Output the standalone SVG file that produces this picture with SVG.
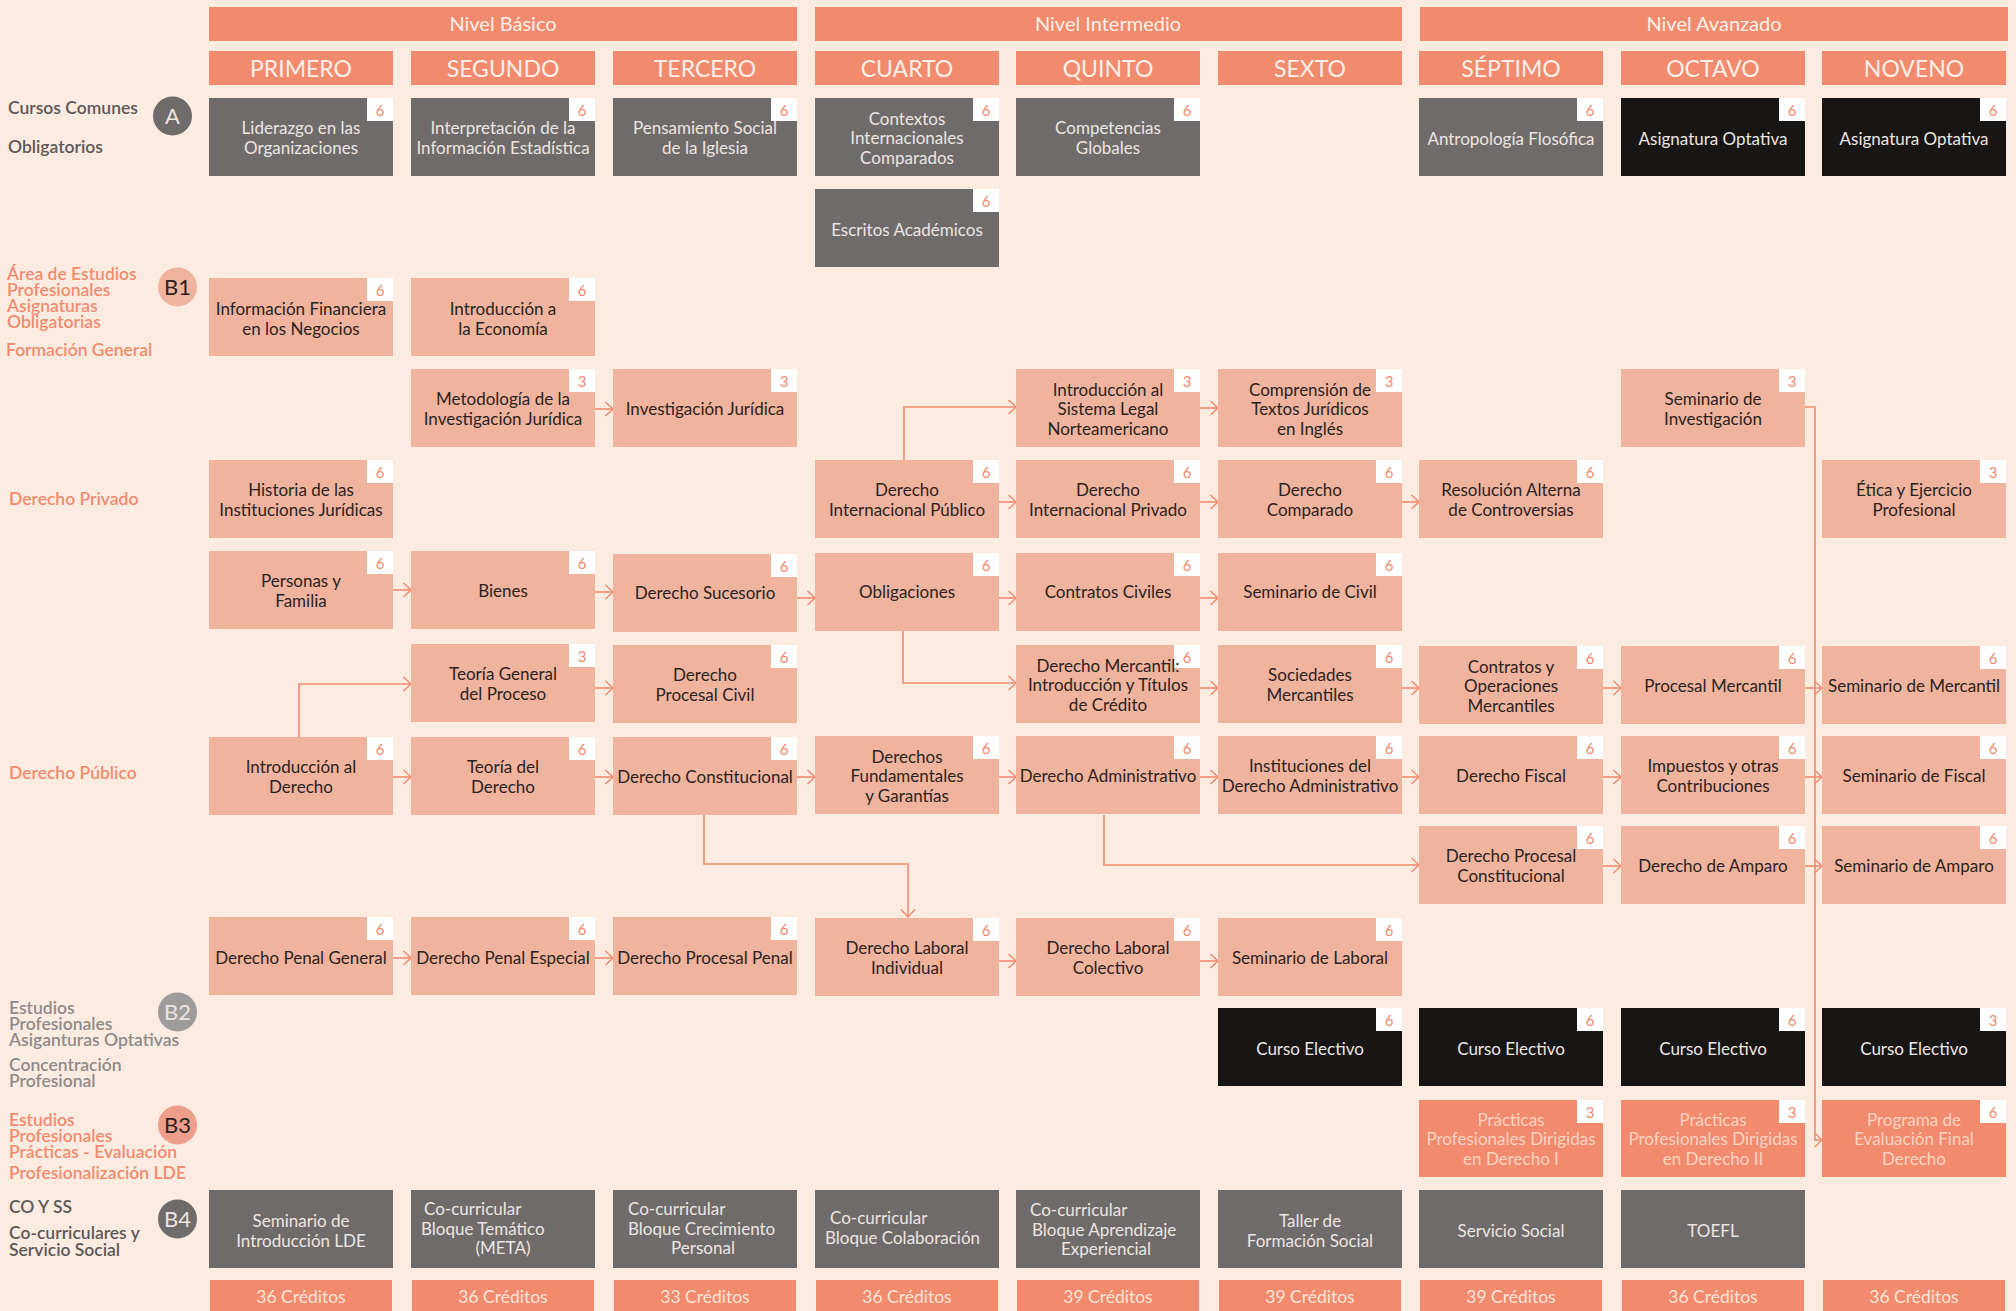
<svg xmlns="http://www.w3.org/2000/svg" width="2016" height="1311" viewBox="0 0 2016 1311">
<defs>
<style>
text{font-family:Lato,"Noto Sans","Liberation Sans",sans-serif;}
.hd{fill:#F28B6E;}
.g{fill:#6F6B6A;}
.k{fill:#181614;}
.s{fill:#F0B39D;}
.p{fill:#F28B6E;}
.bd{fill:#FFFFFF;}
.bn{fill:#F28B6E;font-size:15px;text-anchor:middle;}
.tk{fill:#2B2321;font-size:17px;text-anchor:middle;}
.tl{fill:#ECE5E1;font-size:17px;text-anchor:middle;}
.tp{fill:#FCD3C2;font-size:17px;text-anchor:middle;}
.ts{text-anchor:start;}
.hl{fill:#FDEFE8;font-size:20px;text-anchor:middle;}
.hs{fill:#FDEFE8;font-size:23px;text-anchor:middle;}
.cr{fill:#FDE3D8;font-size:17.5px;text-anchor:middle;}
.lab{font-size:17.5px;font-weight:600;}
.ld{fill:#5E5958;}
.ls{fill:#F28B6E;}
.lg{fill:#8F8B8A;}
.cl{font-size:22px;text-anchor:middle;}
.conn path{fill:none;stroke:#F28B6E;stroke-width:1.6;}
</style>
<marker id="ah" markerUnits="userSpaceOnUse" markerWidth="12" markerHeight="18" refX="9" refY="8" orient="auto">
<path d="M1.5,1 L9,8 L1.5,15" fill="none" stroke="#F28B6E" stroke-width="1.5"/>
</marker>
</defs>
<rect x="0" y="0" width="2016" height="1311" fill="#FCEBE1"/>

<!-- Level headers -->
<g id="levels">
<rect class="hd" x="209" y="7" width="588" height="34"/><text class="hl" x="503" y="31">Nivel Básico</text>
<rect class="hd" x="815" y="7" width="587" height="34"/><text class="hl" x="1108" y="31">Nivel Intermedio</text>
<rect class="hd" x="1420" y="7" width="588" height="34"/><text class="hl" x="1714" y="31">Nivel Avanzado</text>
</g>
<g id="semesters">
<rect class="hd" x="209" y="51" width="184" height="34"/><text class="hs" x="301" y="76.5">PRIMERO</text>
<rect class="hd" x="411" y="51" width="184" height="34"/><text class="hs" x="503" y="76.5">SEGUNDO</text>
<rect class="hd" x="613" y="51" width="184" height="34"/><text class="hs" x="705" y="76.5">TERCERO</text>
<rect class="hd" x="815" y="51" width="184" height="34"/><text class="hs" x="907" y="76.5">CUARTO</text>
<rect class="hd" x="1016" y="51" width="184" height="34"/><text class="hs" x="1108" y="76.5">QUINTO</text>
<rect class="hd" x="1218" y="51" width="184" height="34"/><text class="hs" x="1310" y="76.5">SEXTO</text>
<rect class="hd" x="1419" y="51" width="184" height="34"/><text class="hs" x="1511" y="76.5">SÉPTIMO</text>
<rect class="hd" x="1621" y="51" width="184" height="34"/><text class="hs" x="1713" y="76.5">OCTAVO</text>
<rect class="hd" x="1822" y="51" width="184" height="34"/><text class="hs" x="1914" y="76.5">NOVENO</text>
</g>

<!-- Left legend -->
<g id="legend">
<text class="lab ld" x="8" y="114">Cursos Comunes</text>
<text class="lab ld" x="8" y="153">Obligatorios</text>
<circle cx="172.5" cy="116" r="19.5" fill="#6F6B6A"/><text class="cl" x="172.5" y="124" fill="#ECE5E1">A</text>
<text class="lab ls" x="7" y="280">Área de Estudios</text>
<text class="lab ls" x="7" y="296">Profesionales</text>
<text class="lab ls" x="7" y="312">Asignaturas</text>
<text class="lab ls" x="7" y="328">Obligatorias</text>
<text class="lab ls" x="6" y="356">Formación General</text>
<circle cx="177.5" cy="287" r="19.5" fill="#F0B39D"/><text class="cl" x="177.5" y="295" fill="#2B2321">B1</text>
<text class="lab ls" x="9" y="505">Derecho Privado</text>
<text class="lab ls" x="9" y="779">Derecho Público</text>
<text class="lab lg" x="9" y="1014">Estudios</text>
<text class="lab lg" x="9" y="1030">Profesionales</text>
<text class="lab lg" x="9" y="1046">Asiganturas Optativas</text>
<text class="lab lg" x="9" y="1071">Concentración</text>
<text class="lab lg" x="9" y="1087">Profesional</text>
<circle cx="177.5" cy="1012" r="19.5" fill="#9E9B9B"/><text class="cl" x="177.5" y="1020" fill="#ECE5E1">B2</text>
<text class="lab ls" x="9" y="1126">Estudios</text>
<text class="lab ls" x="9" y="1142">Profesionales</text>
<text class="lab ls" x="9" y="1158">Prácticas - Evaluación</text>
<text class="lab ls" x="9" y="1179">Profesionalización LDE</text>
<circle cx="177.5" cy="1125" r="19.5" fill="#EE9E8A"/><text class="cl" x="177.5" y="1133" fill="#2B2321">B3</text>
<text class="lab ld" x="9" y="1213">CO Y SS</text>
<text class="lab ld" x="9" y="1239">Co-curriculares y</text>
<text class="lab ld" x="9" y="1256">Servicio Social</text>
<circle cx="177.5" cy="1219" r="19.5" fill="#6F6B6A"/><text class="cl" x="177.5" y="1227" fill="#ECE5E1">B4</text>
</g>

<!-- Connectors -->
<g id="connectors" class="conn">
<path d="M595,409 H613" marker-end="url(#ah)"/>
<path d="M1200,408 H1218" marker-end="url(#ah)"/>
<path d="M999,502 H1016" marker-end="url(#ah)"/>
<path d="M1200,502 H1218" marker-end="url(#ah)"/>
<path d="M1402,502 H1419" marker-end="url(#ah)"/>
<path d="M393,590 H411" marker-end="url(#ah)"/>
<path d="M595,592 H613" marker-end="url(#ah)"/>
<path d="M797,598 H815" marker-end="url(#ah)"/>
<path d="M999,598 H1016" marker-end="url(#ah)"/>
<path d="M1200,598 H1218" marker-end="url(#ah)"/>
<path d="M595,688 H613" marker-end="url(#ah)"/>
<path d="M1200,688 H1218" marker-end="url(#ah)"/>
<path d="M1402,688 H1419" marker-end="url(#ah)"/>
<path d="M1603,688 H1621" marker-end="url(#ah)"/>
<path d="M1805,688 H1822" marker-end="url(#ah)"/>
<path d="M393,777 H411" marker-end="url(#ah)"/>
<path d="M595,777 H613" marker-end="url(#ah)"/>
<path d="M797,777 H815" marker-end="url(#ah)"/>
<path d="M999,777 H1016" marker-end="url(#ah)"/>
<path d="M1200,777 H1218" marker-end="url(#ah)"/>
<path d="M1402,777 H1419" marker-end="url(#ah)"/>
<path d="M1603,777 H1621" marker-end="url(#ah)"/>
<path d="M1805,777 H1822" marker-end="url(#ah)"/>
<path d="M1603,866 H1621" marker-end="url(#ah)"/>
<path d="M1805,866 H1822" marker-end="url(#ah)"/>
<path d="M393,958 H411" marker-end="url(#ah)"/>
<path d="M595,958 H613" marker-end="url(#ah)"/>
<path d="M999,961 H1016" marker-end="url(#ah)"/>
<path d="M1200,961 H1218" marker-end="url(#ah)"/>
<path d="M299,737 V684 H411" marker-end="url(#ah)"/>
<path d="M904,460 V407 H1016" marker-end="url(#ah)"/>
<path d="M903,630 V683 H1016" marker-end="url(#ah)"/>
<path d="M704,815 V864 H908 V917" marker-end="url(#ah)"/>
<path d="M1104,815 V865 H1419" marker-end="url(#ah)"/>
<path d="M1805,407 H1815 V1140 H1822" marker-end="url(#ah)"/>
</g>

<!-- Row A -->
<g id="liderazgo"><rect class="g" x="209" y="98" width="184" height="78"/><rect class="bd" x="367" y="98" width="26" height="23"/><text class="bn" x="380" y="116">6</text><text class="tl" x="301" y="134.3">Liderazgo en las<tspan x="301" dy="19.5">Organizaciones</tspan></text></g>
<g id="interpretacion"><rect class="g" x="411" y="98" width="184" height="78"/><rect class="bd" x="569" y="98" width="26" height="23"/><text class="bn" x="582" y="116">6</text><text class="tl" x="503" y="134.3">Interpretación de la<tspan x="503" dy="19.5">Información Estadística</tspan></text></g>
<g id="pensamiento"><rect class="g" x="613" y="98" width="184" height="78"/><rect class="bd" x="771" y="98" width="26" height="23"/><text class="bn" x="784" y="116">6</text><text class="tl" x="705" y="134.3">Pensamiento Social<tspan x="705" dy="19.5">de la Iglesia</tspan></text></g>
<g id="contextos"><rect class="g" x="815" y="98" width="184" height="78"/><rect class="bd" x="973" y="98" width="26" height="23"/><text class="bn" x="986" y="116">6</text><text class="tl" x="907" y="124.5">Contextos<tspan x="907" dy="19.5">Internacionales</tspan><tspan x="907" dy="19.5">Comparados</tspan></text></g>
<g id="competencias"><rect class="g" x="1016" y="98" width="184" height="78"/><rect class="bd" x="1174" y="98" width="26" height="23"/><text class="bn" x="1187" y="116">6</text><text class="tl" x="1108" y="134.3">Competencias<tspan x="1108" dy="19.5">Globales</tspan></text></g>
<g id="antropologia"><rect class="g" x="1419" y="98" width="184" height="78"/><rect class="bd" x="1577" y="98" width="26" height="23"/><text class="bn" x="1590" y="116">6</text><text class="tl" x="1511" y="145">Antropología Flosófica</text></g>
<g id="optativa8"><rect class="k" x="1621" y="98" width="184" height="78"/><rect class="bd" x="1779" y="98" width="26" height="23"/><text class="bn" x="1792" y="116">6</text><text class="tl" x="1713" y="145">Asignatura Optativa</text></g>
<g id="optativa9"><rect class="k" x="1822" y="98" width="184" height="78"/><rect class="bd" x="1980" y="98" width="26" height="23"/><text class="bn" x="1993" y="116">6</text><text class="tl" x="1914" y="145">Asignatura Optativa</text></g>
<g id="escritos"><rect class="g" x="815" y="189" width="184" height="78"/><rect class="bd" x="973" y="189" width="26" height="23"/><text class="bn" x="986" y="207">6</text><text class="tl" x="907" y="236">Escritos Académicos</text></g>

<!-- B1 -->
<g id="infofin"><rect class="s" x="209" y="278" width="184" height="78"/><rect class="bd" x="367" y="278" width="26" height="23"/><text class="bn" x="380" y="296">6</text><text class="tk" x="301" y="315">Información Financiera<tspan x="301" dy="19.5">en los Negocios</tspan></text></g>
<g id="economia"><rect class="s" x="411" y="278" width="184" height="78"/><rect class="bd" x="569" y="278" width="26" height="23"/><text class="bn" x="582" y="296">6</text><text class="tk" x="503" y="315">Introducción a<tspan x="503" dy="19.5">la Economía</tspan></text></g>

<g id="metodologia"><rect class="s" x="411" y="369" width="184" height="78"/><rect class="bd" x="569" y="369" width="26" height="23"/><text class="bn" x="582" y="387">3</text><text class="tk" x="503" y="405.3">Metodología de la<tspan x="503" dy="19.5">Investigación Jurídica</tspan></text></g>
<g id="investigacion"><rect class="s" x="613" y="369" width="184" height="78"/><rect class="bd" x="771" y="369" width="26" height="23"/><text class="bn" x="784" y="387">3</text><text class="tk" x="705" y="415">Investigación Jurídica</text></g>
<g id="sistemalegal"><rect class="s" x="1016" y="369" width="184" height="78"/><rect class="bd" x="1174" y="369" width="26" height="23"/><text class="bn" x="1187" y="387">3</text><text class="tk" x="1108" y="395.5">Introducción al<tspan x="1108" dy="19.5">Sistema Legal</tspan><tspan x="1108" dy="19.5">Norteamericano</tspan></text></g>
<g id="comprension"><rect class="s" x="1218" y="369" width="184" height="78"/><rect class="bd" x="1376" y="369" width="26" height="23"/><text class="bn" x="1389" y="387">3</text><text class="tk" x="1310" y="395.5">Comprensión de<tspan x="1310" dy="19.5">Textos Jurídicos</tspan><tspan x="1310" dy="19.5">en Inglés</tspan></text></g>
<g id="seminvest"><rect class="s" x="1621" y="369" width="184" height="78"/><rect class="bd" x="1779" y="369" width="26" height="23"/><text class="bn" x="1792" y="387">3</text><text class="tk" x="1713" y="405.3">Seminario de<tspan x="1713" dy="19.5">Investigación</tspan></text></g>

<g id="historia"><rect class="s" x="209" y="460" width="184" height="78"/><rect class="bd" x="367" y="460" width="26" height="23"/><text class="bn" x="380" y="478">6</text><text class="tk" x="301" y="496.3">Historia de las<tspan x="301" dy="19.5">Instituciones Jurídicas</tspan></text></g>
<g id="dip"><rect class="s" x="815" y="460" width="184" height="78"/><rect class="bd" x="973" y="460" width="26" height="23"/><text class="bn" x="986" y="478">6</text><text class="tk" x="907" y="496.3">Derecho<tspan x="907" dy="19.5">Internacional Público</tspan></text></g>
<g id="dipriv"><rect class="s" x="1016" y="460" width="184" height="78"/><rect class="bd" x="1174" y="460" width="26" height="23"/><text class="bn" x="1187" y="478">6</text><text class="tk" x="1108" y="496.3">Derecho<tspan x="1108" dy="19.5">Internacional Privado</tspan></text></g>
<g id="comparado"><rect class="s" x="1218" y="460" width="184" height="78"/><rect class="bd" x="1376" y="460" width="26" height="23"/><text class="bn" x="1389" y="478">6</text><text class="tk" x="1310" y="496.3">Derecho<tspan x="1310" dy="19.5">Comparado</tspan></text></g>
<g id="resolucion"><rect class="s" x="1419" y="460" width="184" height="78"/><rect class="bd" x="1577" y="460" width="26" height="23"/><text class="bn" x="1590" y="478">6</text><text class="tk" x="1511" y="496.3">Resolución Alterna<tspan x="1511" dy="19.5">de Controversias</tspan></text></g>
<g id="etica"><rect class="s" x="1822" y="460" width="184" height="78"/><rect class="bd" x="1980" y="460" width="26" height="23"/><text class="bn" x="1993" y="478">3</text><text class="tk" x="1914" y="496.3">Ética y Ejercicio<tspan x="1914" dy="19.5">Profesional</tspan></text></g>

<g id="personas"><rect class="s" x="209" y="551" width="184" height="78"/><rect class="bd" x="367" y="551" width="26" height="23"/><text class="bn" x="380" y="569">6</text><text class="tk" x="301" y="587.3">Personas y<tspan x="301" dy="19.5">Familia</tspan></text></g>
<g id="bienes"><rect class="s" x="411" y="551" width="184" height="78"/><rect class="bd" x="569" y="551" width="26" height="23"/><text class="bn" x="582" y="569">6</text><text class="tk" x="503" y="597">Bienes</text></g>
<g id="sucesorio"><rect class="s" x="613" y="554" width="184" height="78"/><rect class="bd" x="771" y="554" width="26" height="23"/><text class="bn" x="784" y="572">6</text><text class="tk" x="705" y="598.5">Derecho Sucesorio</text></g>
<g id="obligaciones"><rect class="s" x="815" y="553" width="184" height="78"/><rect class="bd" x="973" y="553" width="26" height="23"/><text class="bn" x="986" y="571">6</text><text class="tk" x="907" y="597.5">Obligaciones</text></g>
<g id="contratosciviles"><rect class="s" x="1016" y="553" width="184" height="78"/><rect class="bd" x="1174" y="553" width="26" height="23"/><text class="bn" x="1187" y="571">6</text><text class="tk" x="1108" y="597.5">Contratos Civiles</text></g>
<g id="semcivil"><rect class="s" x="1218" y="553" width="184" height="78"/><rect class="bd" x="1376" y="553" width="26" height="23"/><text class="bn" x="1389" y="571">6</text><text class="tk" x="1310" y="597.5">Seminario de Civil</text></g>

<g id="teoriageneral"><rect class="s" x="411" y="644" width="184" height="78"/><rect class="bd" x="569" y="644" width="26" height="23"/><text class="bn" x="582" y="662">3</text><text class="tk" x="503" y="680.3">Teoría General<tspan x="503" dy="19.5">del Proceso</tspan></text></g>
<g id="procesalcivil"><rect class="s" x="613" y="645" width="184" height="78"/><rect class="bd" x="771" y="645" width="26" height="23"/><text class="bn" x="784" y="663">6</text><text class="tk" x="705" y="681.3">Derecho<tspan x="705" dy="19.5">Procesal Civil</tspan></text></g>
<g id="mercantil"><rect class="s" x="1016" y="645" width="184" height="78"/><rect class="bd" x="1174" y="645" width="26" height="23"/><text class="bn" x="1187" y="663">6</text><text class="tk" x="1108" y="671.5">Derecho Mercantil:<tspan x="1108" dy="19.5">Introducción y Títulos</tspan><tspan x="1108" dy="19.5">de Crédito</tspan></text></g>
<g id="sociedades"><rect class="s" x="1218" y="645" width="184" height="78"/><rect class="bd" x="1376" y="645" width="26" height="23"/><text class="bn" x="1389" y="663">6</text><text class="tk" x="1310" y="681.3">Sociedades<tspan x="1310" dy="19.5">Mercantiles</tspan></text></g>
<g id="contratosop"><rect class="s" x="1419" y="646" width="184" height="78"/><rect class="bd" x="1577" y="646" width="26" height="23"/><text class="bn" x="1590" y="664">6</text><text class="tk" x="1511" y="672.5">Contratos y<tspan x="1511" dy="19.5">Operaciones</tspan><tspan x="1511" dy="19.5">Mercantiles</tspan></text></g>
<g id="procmercantil"><rect class="s" x="1621" y="646" width="184" height="78"/><rect class="bd" x="1779" y="646" width="26" height="23"/><text class="bn" x="1792" y="664">6</text><text class="tk" x="1713" y="692">Procesal Mercantil</text></g>
<g id="semmercantil"><rect class="s" x="1822" y="646" width="184" height="78"/><rect class="bd" x="1980" y="646" width="26" height="23"/><text class="bn" x="1993" y="664">6</text><text class="tk" x="1914" y="692">Seminario de Mercantil</text></g>

<g id="introderecho"><rect class="s" x="209" y="737" width="184" height="78"/><rect class="bd" x="367" y="737" width="26" height="23"/><text class="bn" x="380" y="755">6</text><text class="tk" x="301" y="773.3">Introducción al<tspan x="301" dy="19.5">Derecho</tspan></text></g>
<g id="teoriaderecho"><rect class="s" x="411" y="737" width="184" height="78"/><rect class="bd" x="569" y="737" width="26" height="23"/><text class="bn" x="582" y="755">6</text><text class="tk" x="503" y="773.3">Teoría del<tspan x="503" dy="19.5">Derecho</tspan></text></g>
<g id="constitucional"><rect class="s" x="613" y="737" width="184" height="78"/><rect class="bd" x="771" y="737" width="26" height="23"/><text class="bn" x="784" y="755">6</text><text class="tk" x="705" y="783">Derecho Constitucional</text></g>
<g id="fundamentales"><rect class="s" x="815" y="736" width="184" height="78"/><rect class="bd" x="973" y="736" width="26" height="23"/><text class="bn" x="986" y="754">6</text><text class="tk" x="907" y="762.5">Derechos<tspan x="907" dy="19.5">Fundamentales</tspan><tspan x="907" dy="19.5">y Garantías</tspan></text></g>
<g id="administrativo"><rect class="s" x="1016" y="736" width="184" height="78"/><rect class="bd" x="1174" y="736" width="26" height="23"/><text class="bn" x="1187" y="754">6</text><text class="tk" x="1108" y="782">Derecho Administrativo</text></g>
<g id="instituciones"><rect class="s" x="1218" y="736" width="184" height="78"/><rect class="bd" x="1376" y="736" width="26" height="23"/><text class="bn" x="1389" y="754">6</text><text class="tk" x="1310" y="772.3">Instituciones del<tspan x="1310" dy="19.5">Derecho Administrativo</tspan></text></g>
<g id="fiscal"><rect class="s" x="1419" y="736" width="184" height="78"/><rect class="bd" x="1577" y="736" width="26" height="23"/><text class="bn" x="1590" y="754">6</text><text class="tk" x="1511" y="782">Derecho Fiscal</text></g>
<g id="impuestos"><rect class="s" x="1621" y="736" width="184" height="78"/><rect class="bd" x="1779" y="736" width="26" height="23"/><text class="bn" x="1792" y="754">6</text><text class="tk" x="1713" y="772.3">Impuestos y otras<tspan x="1713" dy="19.5">Contribuciones</tspan></text></g>
<g id="semfiscal"><rect class="s" x="1822" y="736" width="184" height="78"/><rect class="bd" x="1980" y="736" width="26" height="23"/><text class="bn" x="1993" y="754">6</text><text class="tk" x="1914" y="782">Seminario de Fiscal</text></g>

<g id="procconst"><rect class="s" x="1419" y="826" width="184" height="78"/><rect class="bd" x="1577" y="826" width="26" height="23"/><text class="bn" x="1590" y="844">6</text><text class="tk" x="1511" y="862.3">Derecho Procesal<tspan x="1511" dy="19.5">Constitucional</tspan></text></g>
<g id="amparo"><rect class="s" x="1621" y="826" width="184" height="78"/><rect class="bd" x="1779" y="826" width="26" height="23"/><text class="bn" x="1792" y="844">6</text><text class="tk" x="1713" y="872">Derecho de Amparo</text></g>
<g id="semamparo"><rect class="s" x="1822" y="826" width="184" height="78"/><rect class="bd" x="1980" y="826" width="26" height="23"/><text class="bn" x="1993" y="844">6</text><text class="tk" x="1914" y="872">Seminario de Amparo</text></g>

<g id="penalgeneral"><rect class="s" x="209" y="917" width="184" height="78"/><rect class="bd" x="367" y="917" width="26" height="23"/><text class="bn" x="380" y="935">6</text><text class="tk" x="301" y="963.5">Derecho Penal General</text></g>
<g id="penalespecial"><rect class="s" x="411" y="917" width="184" height="78"/><rect class="bd" x="569" y="917" width="26" height="23"/><text class="bn" x="582" y="935">6</text><text class="tk" x="503" y="963.5">Derecho Penal Especial</text></g>
<g id="procpenal"><rect class="s" x="613" y="917" width="184" height="78"/><rect class="bd" x="771" y="917" width="26" height="23"/><text class="bn" x="784" y="935">6</text><text class="tk" x="705" y="963.5">Derecho Procesal Penal</text></g>
<g id="laboralind"><rect class="s" x="815" y="918" width="184" height="78"/><rect class="bd" x="973" y="918" width="26" height="23"/><text class="bn" x="986" y="936">6</text><text class="tk" x="907" y="954.3">Derecho Laboral<tspan x="907" dy="19.5">Individual</tspan></text></g>
<g id="laboralcol"><rect class="s" x="1016" y="918" width="184" height="78"/><rect class="bd" x="1174" y="918" width="26" height="23"/><text class="bn" x="1187" y="936">6</text><text class="tk" x="1108" y="954.3">Derecho Laboral<tspan x="1108" dy="19.5">Colectivo</tspan></text></g>
<g id="semlaboral"><rect class="s" x="1218" y="918" width="184" height="78"/><rect class="bd" x="1376" y="918" width="26" height="23"/><text class="bn" x="1389" y="936">6</text><text class="tk" x="1310" y="963.5">Seminario de Laboral</text></g>

<!-- B2 electivos -->
<g id="electivo6"><rect class="k" x="1218" y="1008" width="184" height="78"/><rect class="bd" x="1376" y="1008" width="26" height="23"/><text class="bn" x="1389" y="1026">6</text><text class="tl" x="1310" y="1054.5">Curso Electivo</text></g>
<g id="electivo7"><rect class="k" x="1419" y="1008" width="184" height="78"/><rect class="bd" x="1577" y="1008" width="26" height="23"/><text class="bn" x="1590" y="1026">6</text><text class="tl" x="1511" y="1054.5">Curso Electivo</text></g>
<g id="electivo8"><rect class="k" x="1621" y="1008" width="184" height="78"/><rect class="bd" x="1779" y="1008" width="26" height="23"/><text class="bn" x="1792" y="1026">6</text><text class="tl" x="1713" y="1054.5">Curso Electivo</text></g>
<g id="electivo9"><rect class="k" x="1822" y="1008" width="184" height="78"/><rect class="bd" x="1980" y="1008" width="26" height="23"/><text class="bn" x="1993" y="1026">3</text><text class="tl" x="1914" y="1054.5">Curso Electivo</text></g>

<!-- B3 -->
<g id="practicas1"><rect class="p" x="1419" y="1100" width="184" height="77"/><rect class="bd" x="1577" y="1100" width="26" height="23"/><text class="bn" x="1590" y="1118">3</text><text class="tp" x="1511" y="1125.5">Prácticas<tspan x="1511" dy="19.5">Profesionales Dirigidas</tspan><tspan x="1511" dy="19.5">en Derecho I</tspan></text></g>
<g id="practicas2"><rect class="p" x="1621" y="1100" width="184" height="77"/><rect class="bd" x="1779" y="1100" width="26" height="23"/><text class="bn" x="1792" y="1118">3</text><text class="tp" x="1713" y="1125.5">Prácticas<tspan x="1713" dy="19.5">Profesionales Dirigidas</tspan><tspan x="1713" dy="19.5">en Derecho II</tspan></text></g>
<g id="evaluacion"><rect class="p" x="1822" y="1100" width="184" height="77"/><rect class="bd" x="1980" y="1100" width="26" height="23"/><text class="bn" x="1993" y="1118">6</text><text class="tp" x="1914" y="1125.5">Programa de<tspan x="1914" dy="19.5">Evaluación Final</tspan><tspan x="1914" dy="19.5">Derecho</tspan></text></g>

<!-- B4 -->
<g id="seminariolde"><rect class="g" x="209" y="1190" width="184" height="78"/><text class="tl" x="301" y="1227">Seminario de<tspan x="301" dy="20">Introducción LDE</tspan></text></g>
<g id="meta"><rect class="g" x="411" y="1190" width="184" height="78"/><text class="tl ts" x="424" y="1215">Co-curricular</text><text class="tl ts" x="421" y="1235">Bloque Temático</text><text class="tl" x="503" y="1254">(META)</text></g>
<g id="crecimiento"><rect class="g" x="613" y="1190" width="184" height="78"/><text class="tl ts" x="628" y="1215">Co-curricular</text><text class="tl ts" x="628" y="1235">Bloque Crecimiento</text><text class="tl" x="703" y="1254">Personal</text></g>
<g id="colaboracion"><rect class="g" x="815" y="1190" width="184" height="78"/><text class="tl ts" x="830" y="1224">Co-curricular</text><text class="tl ts" x="825" y="1244">Bloque Colaboración</text></g>
<g id="aprendizaje"><rect class="g" x="1016" y="1190" width="184" height="78"/><text class="tl ts" x="1030" y="1216">Co-curricular</text><text class="tl ts" x="1032" y="1236">Bloque Aprendizaje</text><text class="tl" x="1106" y="1255">Experiencial</text></g>
<g id="taller"><rect class="g" x="1218" y="1190" width="184" height="78"/><text class="tl" x="1310" y="1227">Taller de<tspan x="1310" dy="20">Formación Social</tspan></text></g>
<g id="serviciosocial"><rect class="g" x="1419" y="1190" width="184" height="78"/><text class="tl" x="1511" y="1237">Servicio Social</text></g>
<g id="toefl"><rect class="g" x="1621" y="1190" width="184" height="78"/><text class="tl" x="1713" y="1237">TOEFL</text></g>

<!-- Credits -->
<g id="creditos">
<rect class="hd" x="210" y="1280" width="182" height="34"/><text class="cr" x="301" y="1303">36 Créditos</text>
<rect class="hd" x="412" y="1280" width="182" height="34"/><text class="cr" x="503" y="1303">36 Créditos</text>
<rect class="hd" x="614" y="1280" width="182" height="34"/><text class="cr" x="705" y="1303">33 Créditos</text>
<rect class="hd" x="816" y="1280" width="182" height="34"/><text class="cr" x="907" y="1303">36 Créditos</text>
<rect class="hd" x="1017" y="1280" width="182" height="34"/><text class="cr" x="1108" y="1303">39 Créditos</text>
<rect class="hd" x="1219" y="1280" width="182" height="34"/><text class="cr" x="1310" y="1303">39 Créditos</text>
<rect class="hd" x="1420" y="1280" width="182" height="34"/><text class="cr" x="1511" y="1303">39 Créditos</text>
<rect class="hd" x="1622" y="1280" width="182" height="34"/><text class="cr" x="1713" y="1303">36 Créditos</text>
<rect class="hd" x="1823" y="1280" width="182" height="34"/><text class="cr" x="1914" y="1303">36 Créditos</text>
</g>
</svg>
